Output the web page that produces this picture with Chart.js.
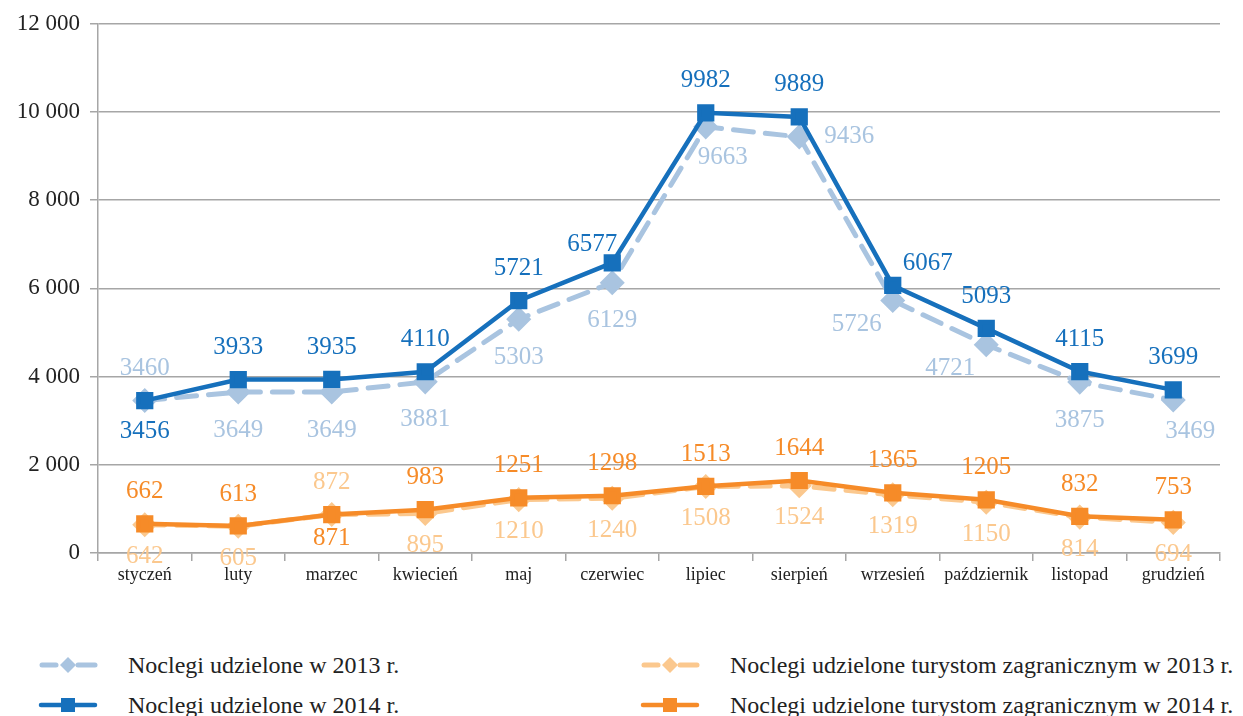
<!DOCTYPE html>
<html>
<head>
<meta charset="utf-8">
<script src="https://cdn.jsdelivr.net/npm/chart.js@4.4.1/dist/chart.umd.min.js"></script>
<style>
body { margin: 0; background: #fff; font-family: 'Liberation Serif', 'Times New Roman', serif; }
#wrap { position: relative; width: 1243px; height: 716px; }
#chart { position: absolute; left: 0; top: 0; }
.leg { position: absolute; display: flex; align-items: center; height: 30px; font-size: 24px; color: #222; white-space: nowrap; }
.leg svg { margin-right: 30px; }
</style>
</head>
<body>
<div id="wrap">
  <canvas id="chart" width="1243" height="600"></canvas>
  <div class="leg" style="left:38px;top:650px">
    <svg width="60" height="20"><line x1="4" y1="10" x2="18" y2="10" stroke="#A9C4E0" stroke-width="5" stroke-linecap="round"/><line x1="40" y1="10" x2="57" y2="10" stroke="#A9C4E0" stroke-width="5" stroke-linecap="round"/><polygon points="30,2 38,10 30,18 22,10" fill="#A9C4E0"/></svg>
    <span>Noclegi udzielone w 2013 r.</span>
  </div>
  <div class="leg" style="left:38px;top:690px">
    <svg width="60" height="20"><line x1="3" y1="10" x2="57" y2="10" stroke="#1670BC" stroke-width="4.5" stroke-linecap="round"/><rect x="23" y="3" width="14" height="14" fill="#1670BC"/></svg>
    <span>Noclegi udzielone w 2014 r.</span>
  </div>
  <div class="leg" style="left:640px;top:650px">
    <svg width="60" height="20"><line x1="4" y1="10" x2="18" y2="10" stroke="#FBC88E" stroke-width="5" stroke-linecap="round"/><line x1="40" y1="10" x2="57" y2="10" stroke="#FBC88E" stroke-width="5" stroke-linecap="round"/><polygon points="30,2 38,10 30,18 22,10" fill="#FBC88E"/></svg>
    <span>Noclegi udzielone turystom zagranicznym w 2013 r.</span>
  </div>
  <div class="leg" style="left:640px;top:690px">
    <svg width="60" height="20"><line x1="3" y1="10" x2="57" y2="10" stroke="#F68B28" stroke-width="4.5" stroke-linecap="round"/><rect x="23" y="3" width="14" height="14" fill="#F68B28"/></svg>
    <span>Noclegi udzielone turystom zagranicznym w 2014 r.</span>
  </div>
</div>
<script>
// Months
const months = ['styczeń', 'luty', 'marzec', 'kwiecień', 'maj', 'czerwiec', 'lipiec', 'sierpień', 'wrzesień', 'październik', 'listopad', 'grudzień'];

// Noclegi udzielone
const total2013 = [3460, 3649, 3649, 3881, 5303, 6129, 9663, 9436, 5726, 4721, 3875, 3469];
const total2014 = [3456, 3933, 3935, 4110, 5721, 6577, 9982, 9889, 6067, 5093, 4115, 3699];

// Noclegi udzielone turystom zagranicznym
const foreign2013 = [642, 605, 872, 895, 1210, 1240, 1508, 1524, 1319, 1150, 814, 694];
const foreign2014 = [662, 613, 871, 983, 1251, 1298, 1513, 1644, 1365, 1205, 832, 753];

const yTicks = [0, 2000, 4000, 6000, 8000, 10000, 12000];

const BLUE = '#1670BC', LIGHT_BLUE = '#A9C4E0';
const ORANGE = '#F68B28', LIGHT_ORANGE = '#FBC88E';

// label offsets relative to the point
const OFFSETS = {
    above: [0, -32],
    aboveLeft: [-20, -19],
    aboveRight: [35, -22],
    right: [50, 0],
    belowRight: [17, 31],
    belowLeft: [-36, 24]
};

// value labels next to each point
const pointLabels = {
    id: 'pointLabels',
    afterDatasetsDraw(chart) {
        const ctx = chart.ctx;
        chart.data.datasets.forEach((ds, i) => {
            const meta = chart.getDatasetMeta(i);
            ctx.save();
            ctx.font = '25px "Liberation Serif", serif';
            ctx.fillStyle = ds.borderColor;
            ctx.textAlign = 'center';
            ctx.textBaseline = 'middle';
            meta.data.forEach((pt, j) => {
                const side = ds.sides[j] || ds.side;
                const off = side === 'below' ? [0, ds.below] : OFFSETS[side];
                ctx.fillText(ds.data[j], pt.x + off[0], pt.y + off[1]);
            });
            ctx.restore();
        });
    }
};

function fmt(v) {
    return String(v).replace(/\B(?=(\d{3})+(?!\d))/g, ' ');
}

function draw() {
    new Chart(document.getElementById('chart'), {
        type: 'line',
        data: {
            labels: months,
            datasets: [
                {
                    label: 'Noclegi udzielone w 2014 r.',
                    data: total2014,
                    borderColor: BLUE,
                    backgroundColor: BLUE,
                    borderWidth: 4.5,
                    pointStyle: 'rect',
                    pointRadius: 9,
                    order: 1,
                    side: 'above', sides: { 0: 'below', 5: 'aboveLeft', 8: 'aboveRight' }, below: 31
                },
                {
                    label: 'Noclegi udzielone w 2013 r.',
                    data: total2013,
                    borderColor: LIGHT_BLUE,
                    backgroundColor: LIGHT_BLUE,
                    borderWidth: 5,
                    borderDash: [20, 12],
                    borderCapStyle: 'round',
                    pointStyle: 'rectRot',
                    pointRadius: 9,
                    order: 2,
                    side: 'below', sides: { 0: 'above', 6: 'belowRight', 7: 'right', 8: 'belowLeft', 9: 'belowLeft', 11: 'belowRight' }, below: 38
                },
                {
                    label: 'Noclegi udzielone turystom zagranicznym w 2014 r.',
                    data: foreign2014,
                    borderColor: ORANGE,
                    backgroundColor: ORANGE,
                    borderWidth: 4.5,
                    pointStyle: 'rect',
                    pointRadius: 9,
                    order: 3,
                    side: 'above', sides: { 2: 'below' }, below: 24
                },
                {
                    label: 'Noclegi udzielone turystom zagranicznym w 2013 r.',
                    data: foreign2013,
                    borderColor: LIGHT_ORANGE,
                    backgroundColor: LIGHT_ORANGE,
                    borderWidth: 5,
                    borderDash: [20, 12],
                    borderCapStyle: 'round',
                    pointStyle: 'rectRot',
                    pointRadius: 9,
                    order: 4,
                    side: 'below', sides: { 2: 'above' }, below: 32
                }
            ]
        },
        options: {
            responsive: false,
            animation: false,
            layout: { padding: { top: 21, right: 23, left: 0, bottom: 0 } },
            plugins: {
                legend: { display: false },
                tooltip: { enabled: false }
            },
            scales: {
                x: {
                    offset: true,
                    afterFit: (scale) => { scale.height = 47; },
                    grid: {
                        offset: true,
                        drawOnChartArea: false,
                        drawTicks: true,
                        tickLength: 8,
                        color: '#A6A6A6',
                        lineWidth: 1.5
                    },
                    border: { color: '#A6A6A6', width: 1.5 },
                    ticks: {
                        color: '#222',
                        font: { family: '"Liberation Serif", serif', size: 18 },
                        padding: 3,
                        maxRotation: 0,
                        autoSkip: false
                    }
                },
                y: {
                    min: 0,
                    max: 12000,
                    afterFit: (scale) => { scale.width = 98; },
                    afterBuildTicks: (scale) => { scale.ticks = yTicks.map(v => ({ value: v })); },
                    grid: {
                        color: '#A6A6A6',
                        lineWidth: 1.5,
                        drawTicks: true,
                        tickLength: 8
                    },
                    border: { color: '#A6A6A6', width: 1.5 },
                    ticks: {
                        color: '#222',
                        font: { family: '"Liberation Serif", serif', size: 23 },
                        padding: 10,
                        callback: (v) => fmt(v)
                    }
                }
            }
        },
        plugins: [pointLabels]
    });
}

document.fonts.load('25px "Liberation Serif"').then(draw, draw);
</script>
</body>
</html>
